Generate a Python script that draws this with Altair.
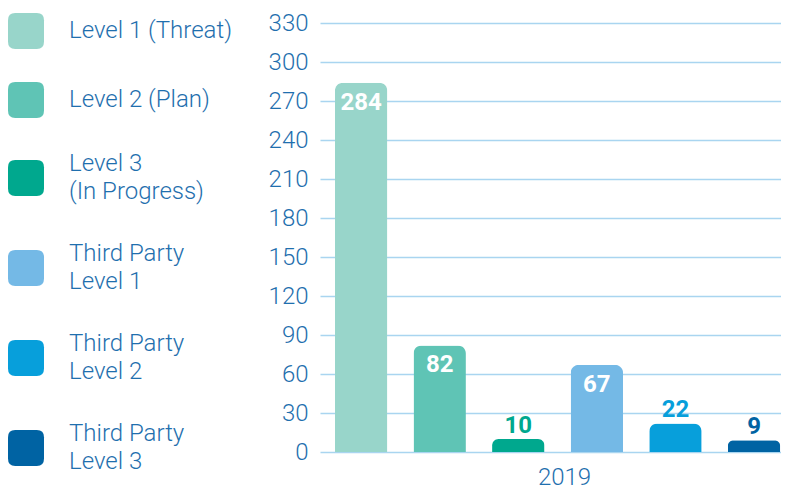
import altair as alt
import pandas as pd

categories = ["Level 1 (Threat)", "Level 2 (Plan)", "Level 3|(In Progress)",
              "Third Party|Level 1", "Third Party|Level 2", "Third Party|Level 3"]
values = [284, 82, 10, 67, 22, 9]
colors = ["#98d5ca", "#5fc4b5", "#00a88e", "#74b9e6", "#079fdb", "#0063a3"]
year = "2019"
y_ticks = [0, 30, 60, 90, 120, 150, 180, 210, 240, 270, 300, 330]

df = pd.DataFrame({"category": categories, "value": values})

TEXT = "#1f6fae"
GRID = "#a9d5f0"
FONT = "Roboto"
ROUND_SQ = ("M-0.6,-1 L0.6,-1 Q1,-1 1,-0.6 L1,0.6 Q1,1 0.6,1 L-0.6,1 "
            "Q-1,1 -1,0.6 L-1,-0.6 Q-1,-1 -0.6,-1 Z")

single_line = categories[:2]
multi_line = categories[2:]

# same mapping, listed in reverse so that the two legends stay separate
scale_a = alt.Scale(domain=categories, range=colors)
scale_b = alt.Scale(domain=categories[::-1], range=colors[::-1])

x_enc = alt.X(
    "category:N", sort=categories,
    scale=alt.Scale(paddingInner=0.3333, paddingOuter=0.1, align=0.95),
    axis=alt.Axis(labels=False, ticks=False, domain=False, title=year,
                  titleFontSize=24, titleFont=FONT, titleFontWeight=300,
                  titleColor=TEXT, titlePadding=13, titleX=244),
)
y_enc = alt.Y(
    "value:Q", scale=alt.Scale(domain=[0, 330], nice=False),
    axis=alt.Axis(values=y_ticks, title=None, domain=False, ticks=False,
                  labelPadding=12, labelFontSize=24, labelFont=FONT,
                  labelFontWeight=300, labelColor=TEXT, gridColor=GRID,
                  gridWidth=1.5, grid=True),
)

legend_common = dict(
    orient="none", legendX=-312, title=None,
    symbolType=ROUND_SQ, symbolSize=1296, symbolStrokeWidth=0,
    symbolOpacity=1, labelOffset=25, labelFontSize=24, labelFont=FONT,
    labelFontWeight=300, labelColor=TEXT, labelLimit=400,
    labelExpr="split(datum.label, '|')",
)
legend_a = alt.Legend(values=single_line, legendY=-10, rowPadding=33,
                      **legend_common)
legend_b = alt.Legend(values=multi_line, legendY=137, rowPadding=38,
                      labelBaseline="line-bottom", **legend_common)

base = alt.Chart(df)

bars = base.mark_bar(cornerRadiusTopLeft=8, cornerRadiusTopRight=8).encode(
    x=x_enc, y=y_enc,
    color=alt.Color("category:N", scale=scale_a, legend=legend_a),
)

inside = base.transform_filter("datum.value > 50").mark_text(
    dy=27, fontSize=24, fontWeight="bold", font=FONT, color="white",
    baseline="alphabetic",
).encode(x=x_enc, y=y_enc, text="value:Q")

outside = base.transform_filter("datum.value <= 50").mark_text(
    dy=-6, fontSize=24, fontWeight="bold", font=FONT, baseline="alphabetic",
).encode(
    x=x_enc, y=y_enc, text="value:Q",
    fill=alt.Fill("category:N", scale=scale_b, legend=legend_b),
)

chart = alt.layer(bars, inside, outside).properties(
    width=461, height=429,
    autosize=alt.AutoSizeParams(type="none"),
    padding={"left": 312, "top": 15, "right": 0, "bottom": 38},
).configure(
    view=alt.ViewConfig(stroke=None),
    style={"guide-label": {"lineHeight": 28}},
)

chart.save("out.html", embed_options={"renderer": "svg", "actions": False})
